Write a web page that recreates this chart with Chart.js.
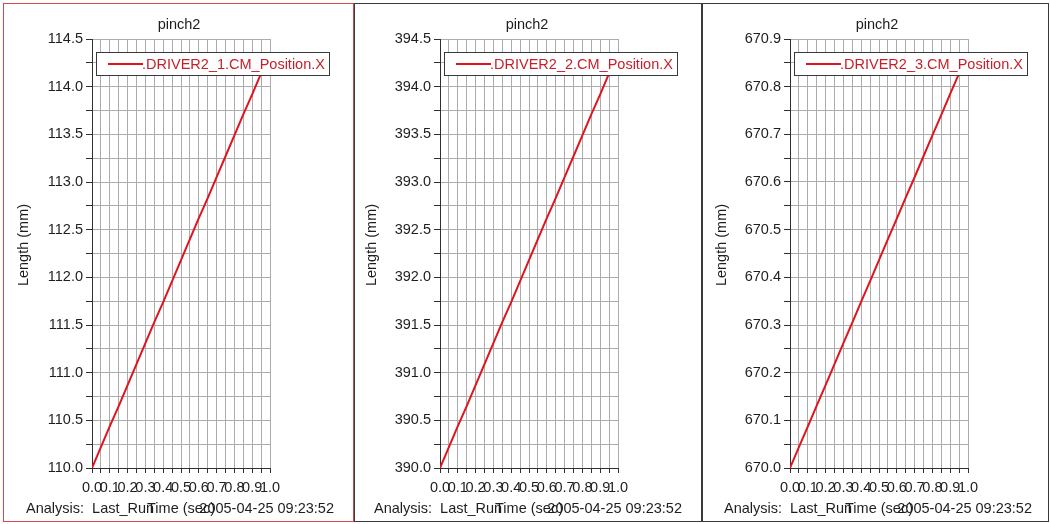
<!DOCTYPE html>
<html>
<head>
<meta charset="utf-8">
<script src="https://cdn.jsdelivr.net/npm/chart.js@4.4.1/dist/chart.umd.min.js"></script>
<style>
  html, body { margin: 0; padding: 0; background: #ffffff; }
  #wrap { position: relative; width: 1050px; height: 524px; overflow: hidden; background: #ffffff; }
  .frame { position: absolute; box-sizing: border-box; border: 1px solid #3a3a3a; }
  .frame.active { border-color: #d84a4a; }
  canvas { position: absolute; top: 0; }
</style>
</head>
<body>
<div id="wrap">
  <div class="frame active" style="left:3px; top:3px; width:351px; height:519px;"></div>
  <div class="frame" style="left:354px; top:3px; width:348px; height:519px;"></div>
  <div class="frame" style="left:702px; top:3px; width:347px; height:519px;"></div>
  <canvas id="c0" width="352" height="524" style="left:0px"></canvas>
  <canvas id="c1" width="352" height="524" style="left:348px"></canvas>
  <canvas id="c2" width="352" height="524" style="left:698px"></canvas>
</div>
<script>
// Sample times (sec)
const times = [0.00, 0.05, 0.10, 0.15, 0.20, 0.25, 0.30, 0.35, 0.40, 0.45,
               0.50, 0.55, 0.60, 0.65, 0.70, 0.75, 0.80, 0.85, 0.90, 0.95];

// CM position X of each driver (mm)
const driver1 = [110.00, 110.22, 110.44, 110.65, 110.87, 111.09, 111.31, 111.53, 111.74, 111.96,
                 112.18, 112.40, 112.62, 112.83, 113.05, 113.27, 113.49, 113.71, 113.92, 114.14];
const driver2 = [390.00, 390.22, 390.44, 390.65, 390.87, 391.09, 391.31, 391.53, 391.74, 391.96,
                 392.18, 392.40, 392.62, 392.83, 393.05, 393.27, 393.49, 393.71, 393.92, 394.14];
const driver3 = [670.000, 670.044, 670.087, 670.131, 670.174, 670.218, 670.262, 670.305, 670.349, 670.392,
                 670.436, 670.480, 670.523, 670.567, 670.610, 670.654, 670.698, 670.741, 670.785, 670.828];

const seriesLabels = ['.DRIVER2_1.CM_Position.X', '.DRIVER2_2.CM_Position.X', '.DRIVER2_3.CM_Position.X'];

// Axis ranges and tick spacing per panel
const yMins = [110.0, 390.0, 670.0];
const yMaxs = [114.5, 394.5, 670.9];
const yGridSteps = [0.25, 0.25, 0.05];
const yLabelSteps = [0.5, 0.5, 0.1];
const xMin = 0.0, xMax = 1.0, xGridStep = 0.05, xLabelStep = 0.1;

const plotTitle = 'pinch2';
const yAxisTitle = 'Length (mm)';
const xAxisTitle = 'Time (sec)';
const analysisText = 'Analysis:  Last_Run';
const stampText = '2005-04-25 09:23:52';

const FONT = '"Liberation Sans", Arial, sans-serif';
const FSIZE = 14.5;
const TEXT = '#1e1e1e';
const RED = '#e0141e';

// Plot rectangle inside each canvas
const AREA = { left: 92, right: 270, top: 39, bottom: 468 };
const CANVAS_W = 352, CANVAS_H = 524;

function onStep(v, step) {
  const r = v / step;
  return Math.abs(r - Math.round(r)) < 1e-6;
}

const annotate = {
  id: 'annotate',
  afterDraw(chart) {
    const ctx = chart.ctx;
    const a = chart.chartArea;
    ctx.save();
    ctx.fillStyle = TEXT;
    ctx.font = FSIZE + 'px ' + FONT;
    ctx.textBaseline = 'middle';

    // title
    ctx.textAlign = 'center';
    ctx.fillText(plotTitle, 179, 25);

    // y axis title
    ctx.save();
    ctx.translate(24, 245);
    ctx.rotate(-Math.PI / 2);
    ctx.textAlign = 'center';
    ctx.fillText(yAxisTitle, 0, 0);
    ctx.restore();

    // footer line: run name, x axis title, time stamp
    ctx.textAlign = 'left';
    ctx.fillText(analysisText, 26, 509);
    ctx.textAlign = 'center';
    ctx.fillText(xAxisTitle, (a.left + a.right) / 2, 509);
    ctx.textAlign = 'right';
    ctx.fillText(stampText, 334, 509);

    // legend box over the plot
    const lx = a.left + 4, ly = a.top + 13, lw = 234, lh = 24;
    ctx.fillStyle = '#ffffff';
    ctx.fillRect(lx, ly, lw, lh);
    ctx.strokeStyle = '#3a3a3a';
    ctx.lineWidth = 1;
    ctx.strokeRect(lx + 0.5, ly + 0.5, lw - 1, lh - 1);
    const ds = chart.data.datasets[0];
    ctx.strokeStyle = ds.borderColor;
    ctx.lineWidth = 2;
    ctx.beginPath();
    ctx.moveTo(lx + 12, ly + 12);
    ctx.lineTo(lx + 47, ly + 12);
    ctx.stroke();
    ctx.fillStyle = '#c8202a';
    ctx.textAlign = 'left';
    ctx.fillText(ds.label, lx + 46, ly + 12.5);
    ctx.restore();
  }
};

function makeChart(id, idx, values) {
  const pts = times.map((t, i) => ({ x: t, y: values[i] }));
  const gStep = yGridSteps[idx], lStep = yLabelSteps[idx];
  return new Chart(document.getElementById(id), {
    type: 'line',
    data: {
      datasets: [{
        label: seriesLabels[idx],
        data: pts,
        borderColor: RED,
        borderWidth: 2,
        pointRadius: 0,
        tension: 0,
        fill: false
      }]
    },
    options: {
      responsive: false,
      animation: false,
      events: [],
      layout: { padding: { left: 0, top: AREA.top, right: CANVAS_W - AREA.right, bottom: 0 } },
      plugins: { legend: { display: false }, title: { display: false }, tooltip: { enabled: false } },
      scales: {
        x: {
          type: 'linear',
          min: xMin, max: xMax,
          afterFit(scale) { scale.height = CANVAS_H - AREA.bottom; },
          ticks: {
            stepSize: xGridStep,
            autoSkip: false, maxRotation: 0, minRotation: 0,
            padding: 6,
            color: TEXT,
            font: { family: FONT, size: FSIZE },
            callback: v => onStep(v, xLabelStep) ? v.toFixed(1) : ''
          },
          grid: { color: '#acacac', lineWidth: 1, tickColor: '#303030', tickLength: 5 },
          border: { display: true, color: '#303030', width: 1 }
        },
        y: {
          type: 'linear',
          min: yMins[idx], max: yMaxs[idx],
          afterFit(scale) { scale.width = AREA.left; },
          ticks: {
            stepSize: gStep,
            autoSkip: false,
            padding: 3,
            color: TEXT,
            font: { family: FONT, size: FSIZE },
            callback: v => onStep(v, lStep) ? v.toFixed(1) : ''
          },
          grid: { color: '#acacac', lineWidth: 1, tickColor: '#303030', tickLength: 6 },
          border: { display: true, color: '#303030', width: 1 }
        }
      }
    },
    plugins: [annotate]
  });
}

makeChart('c0', 0, driver1);
makeChart('c1', 1, driver2);
makeChart('c2', 2, driver3);
</script>
</body>
</html>
